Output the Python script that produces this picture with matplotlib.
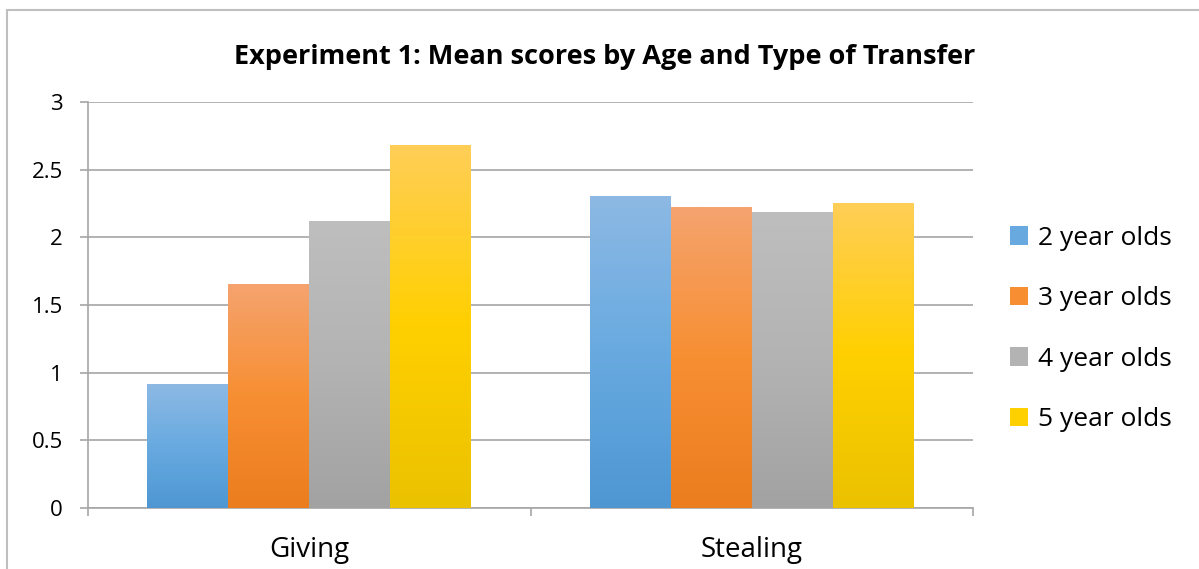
import matplotlib.pyplot as plt
import numpy as np
from matplotlib.colors import LinearSegmentedColormap
from matplotlib.patches import Rectangle, Patch

plt.rcParams['font.family'] = ['Open Sans', 'DejaVu Sans']

# ========== data ==========
categories = ['Giving', 'Stealing']
series_names = ['2 year olds', '3 year olds', '4 year olds', '5 year olds']
scores = {
    '2 year olds': [0.91, 2.30],
    '3 year olds': [1.65, 2.22],
    '4 year olds': [2.12, 2.18],
    '5 year olds': [2.68, 2.25],
}
# top / middle / bottom of each gradient fill
gradients = {
    '2 year olds': ['#8DB9E4', '#68AAE0', '#4E97D3'],
    '3 year olds': ['#F5A36F', '#F78F32', '#EB7D1E'],
    '4 year olds': ['#BEBEBE', '#B3B3B3', '#A2A2A2'],
    '5 year olds': ['#FFCE57', '#FFD000', '#EBC200'],
}

fig = plt.figure(figsize=(11.99, 5.69), dpi=100)
ax = fig.add_axes([88 / 1199, 1 - 508 / 569, (973 - 88) / 1199, (508 - 102) / 569])

x = np.arange(len(categories))
width = 0.183

for i, name in enumerate(series_names):
    offs = (i - 1.5) * width
    bars = ax.bar(x + offs, scores[name], width, color=gradients[name][1], zorder=2)
    cmap = LinearSegmentedColormap.from_list(name, gradients[name][::-1])
    grad = np.linspace(0, 1, 256).reshape(-1, 1)
    for bar in bars:
        bx, bw, bh = bar.get_x(), bar.get_width(), bar.get_height()
        ax.imshow(grad, cmap=cmap, origin='lower', aspect='auto',
                  extent=[bx, bx + bw, 0, bh], zorder=3)

ax.set_xlim(-0.5, 1.5)
ax.set_ylim(0, 3)
ax.set_yticks([0, 0.5, 1, 1.5, 2, 2.5, 3])
ax.set_yticklabels(['0', '0.5', '1', '1.5', '2', '2.5', '3'])
ax.set_xticks(x)
ax.set_xticklabels(categories)
ax.set_xticks([-0.5, 0.5, 1.5], minor=True)

grid_c = '#A6A6A6'
ax.grid(True, axis='y', color=grid_c, linewidth=1.2, zorder=1)
ax.set_axisbelow(True)
for s in ['top', 'right']:
    ax.spines[s].set_visible(False)
ax.spines['left'].set_color(grid_c)
ax.spines['bottom'].set_color(grid_c)
ax.spines['left'].set_linewidth(1.2)
ax.spines['bottom'].set_linewidth(1.2)

ax.tick_params(axis='y', direction='out', length=6, color=grid_c, width=1.2,
               labelsize=16, pad=12)
ax.tick_params(axis='x', which='major', length=0, labelsize=20, pad=20)
ax.tick_params(axis='x', which='minor', direction='out', length=6, color=grid_c, width=1.2)

handles = [Patch(facecolor=gradients[n][1], edgecolor='none') for n in series_names]
fig.legend(handles, series_names, loc='center left',
           bbox_to_anchor=(1010 / 1199, 1 - 329 / 569), frameon=False,
           fontsize=19, handlelength=0.7, handleheight=0.7,
           handletextpad=0.35, labelspacing=1.35, borderpad=0, borderaxespad=0)

fig.text(605 / 1199, 1 - 57 / 569, 'Experiment 1: Mean scores by Age and Type of Transfer',
         ha='center', va='center', fontsize=19.5, fontweight='bold')

# outer chart border
fig.patches.append(Rectangle((7 / 1199, -0.1), 2, 1 - 10 / 569 + 0.1,
                             transform=fig.transFigure, fill=False,
                             edgecolor='#BFBFBF', linewidth=1.5))

plt.savefig('out.png', dpi=100)
